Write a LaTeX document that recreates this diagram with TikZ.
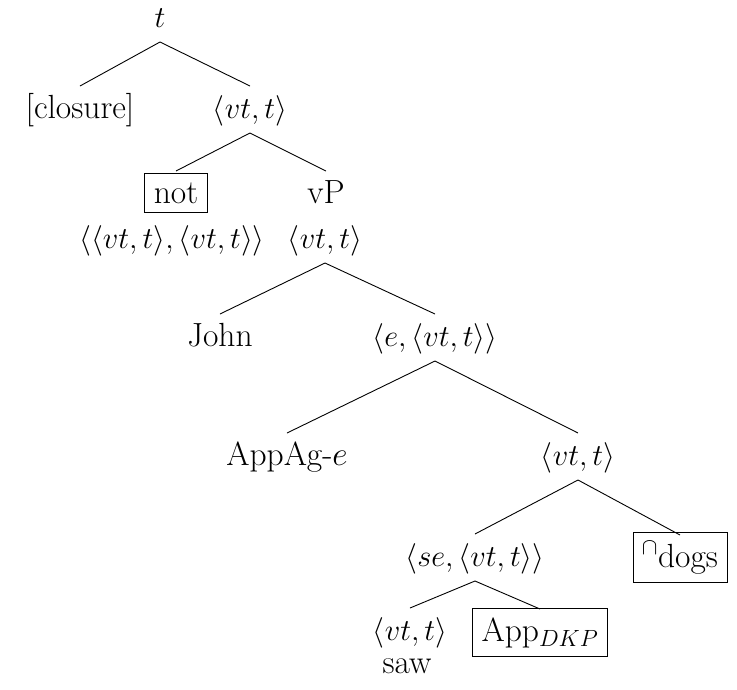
\RequirePackage{fix-cm}
\documentclass[tikz,border=0pt]{standalone}
\usetikzlibrary{calc}
\begin{document}
\begin{tikzpicture}[x=1pt,y=-1pt,
  every node/.style={font=\fontsize{30.5}{36}\selectfont, anchor=base, inner sep=0pt},
  word/.style={font=\fontsize{33.5}{40}\selectfont},
  boxed/.style={word, draw, line width=0.9pt, inner sep=9pt},
  branch/.style={line width=0.9pt}]
\useasboundingbox (0,0) rectangle (737,689);
% a branch runs from just below the parent's baseline to just above the child
\newcommand\treebranch[2]{\draw[branch] ($(#1.base)+(0,15)$) -- ($(#2.base)+(0,-32)$);}

\node (root)    at (160,27)  {$t$};
\node[word] (closure) at (80,118)  {[closure]};
\node (neg)     at (250,118) {$\langle vt,t\rangle$};

\node[boxed] (not) at (176,203) {not};
\node (nottype)   at (172,248) {$\langle\langle vt,t\rangle,\langle vt,t\rangle\rangle$};
\node[word] (vP)  at (326,203) {vP};
\node (vPtype)    at (325,248) {$\langle vt,t\rangle$};

\node[word] (john)  at (220,346) {John};
\node (ag)    at (435,346) {$\langle e,\langle vt,t\rangle\rangle$};

\node[word] (appag) at (287,465) {AppAg-$e$};
\node (obj)   at (578,465) {$\langle vt,t\rangle$};

\node (se)    at (475,566) {$\langle se,\langle vt,t\rangle\rangle$};
\node[boxed] (dogs) at (680,567) {$^{\cap}$dogs};

\node (verb)  at (410,640) {$\langle vt,t\rangle$};
\node[word] (saw)   at (407,673) {saw};
\node[boxed] (app) at (540,641) {App$_{DKP}$};

\treebranch{root}{closure}
\treebranch{root}{neg}
\treebranch{neg}{not}
\treebranch{neg}{vP}
\treebranch{vPtype}{john}
\treebranch{vPtype}{ag}
\treebranch{ag}{appag}
\treebranch{ag}{obj}
\treebranch{obj}{se}
\treebranch{obj}{dogs}
\treebranch{se}{verb}
\treebranch{se}{app}
\end{tikzpicture}
\end{document}
